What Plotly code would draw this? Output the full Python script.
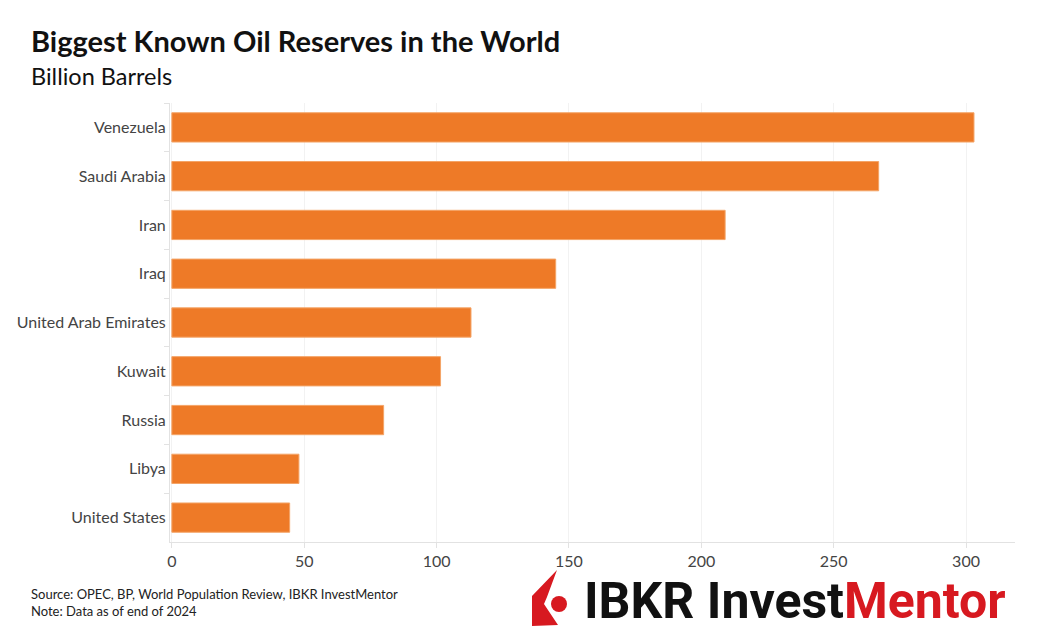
import plotly.graph_objects as go

countries = ["Venezuela", "Saudi Arabia", "Iran", "Iraq", "United Arab Emirates",
             "Kuwait", "Russia", "Libya", "United States"]
reserves = [303, 267, 209, 145, 113, 101.5, 80, 48, 44.5]
x_ticks = [0, 50, 100, 150, 200, 250, 300]

title = "Biggest Known Oil Reserves in the World"
subtitle = "Billion Barrels"
source = "Source: OPEC, BP, World Population Review, IBKR InvestMentor"
note = "Note: Data as of end of 2024"

OFF = 8  # page body margin
W, H = 1051 - 2 * OFF, 641 - 2 * OFF
L, R, T, B = 170, 1015, 103, 542  # page coordinates of plot area

def px(x):
    return (x - L) / (R - L)

def py(y):
    return (B - y) / (B - T)

FONT = "Lato"
BAR = "#EE7A27"

fig = go.Figure(go.Bar(
    x=reserves, y=countries, orientation="h",
    marker=dict(color=BAR, line=dict(color="#F4A467", width=1)),
    width=0.6,
))

fig.update_layout(
    width=W, height=H,
    margin=dict(l=L - OFF, r=W - (R - OFF), t=T - OFF, b=H - (B - OFF), pad=0),
    paper_bgcolor="white", plot_bgcolor="white",
    showlegend=False,
    font=dict(family=FONT, color="#444444", size=16),
    bargap=0.4,
)
fig.update_xaxes(
    range=[-0.7, 318.5], tickvals=x_ticks, automargin=False,
    showgrid=True, gridcolor="#F2F2F2", gridwidth=1,
    showline=True, linecolor="#E2E2E2", linewidth=1,
    ticks="outside", ticklen=5, tickcolor="#E2E2E2",
    zeroline=False, tickfont=dict(size=16, color="#444444"),
)
fig.update_yaxes(
    categoryorder="array", categoryarray=countries, autorange="reversed",
    automargin=False,
    showline=True, linecolor="#E2E2E2", linewidth=1,
    ticks="outside", ticklen=5, tickcolor="#E2E2E2", tickson="boundaries",
    showgrid=False, tickfont=dict(size=16, color="#444444"),
)

ann = []
ann.append(dict(text="<b>" + title + "</b>", x=px(29), y=py(21), xref="paper", yref="paper",
                xanchor="left", yanchor="top", showarrow=False,
                font=dict(family=FONT, size=29, color="#111111")))
ann.append(dict(text=subtitle, x=px(29), y=py(60), xref="paper", yref="paper",
                xanchor="left", yanchor="top", showarrow=False,
                font=dict(family=FONT, size=23.5, color="#111111")))
ann.append(dict(text=source + "<br>" + note, x=px(29), y=py(584), xref="paper", yref="paper",
                xanchor="left", yanchor="top", showarrow=False, align="left",
                font=dict(family=FONT, size=13, color="#222222")))
ann.append(dict(text="<b>IBKR Invest<span style='color:#D71920'>Mentor</span></b>",
                x=px(582), y=py(601), xref="paper", yref="paper",
                xanchor="left", yanchor="middle", showarrow=False,
                font=dict(family="Roboto", size=50, color="#111111")))
fig.update_layout(annotations=ann)

def pt(x, y):
    return f"{px(x):.5f},{py(y):.5f}"

icon = [(557, 570), (532, 596), (532, 626), (558, 625), (544, 604), (547, 597)]
path = "M " + " L ".join(pt(x, y) for x, y in icon) + " Z"
shapes = [
    dict(type="path", path=path, xref="paper", yref="paper",
         fillcolor="#D71920", line=dict(width=0)),
    dict(type="circle", xref="paper", yref="paper",
         x0=px(551), x1=px(567), y0=py(612), y1=py(596),
         fillcolor="#D71920", line=dict(width=0)),
]
fig.update_layout(shapes=shapes)

fig.write_html("out.html")
